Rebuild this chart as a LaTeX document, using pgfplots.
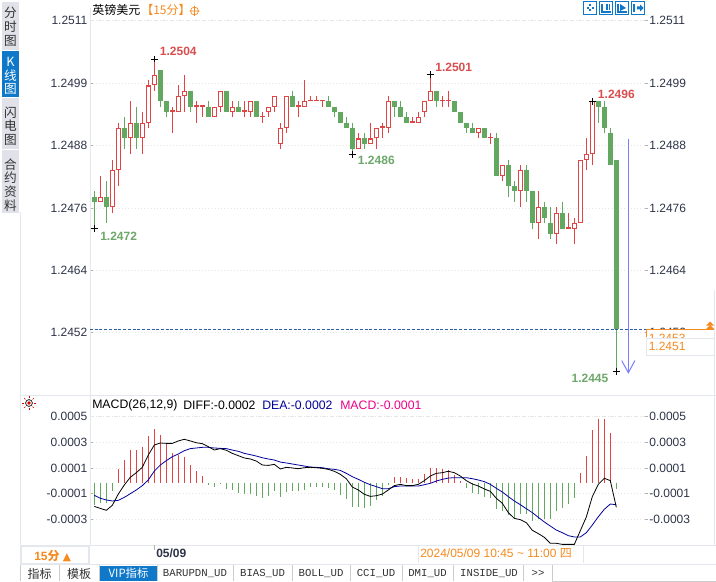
\documentclass[border=0pt]{standalone}
\usepackage{fontspec}
\usepackage{pgfplots}
\usepackage{pgfplotstable}
\pgfplotsset{compat=1.18}
\setmainfont{Liberation Sans}
\setmonofont{Liberation Mono}
\newfontfamily\cjk{Noto Sans CJK SC}
\newfontfamily\dejavu{DejaVu Sans}

\definecolor{upred}{HTML}{E04444}
\definecolor{downgreen}{HTML}{62A860}
\definecolor{labred}{HTML}{D94F4F}
\definecolor{labgreen}{HTML}{6DA86B}
\definecolor{ticktxt}{HTML}{2E3448}
\definecolor{rule}{HTML}{E4E8EE}
\definecolor{gridc}{HTML}{E6E6E6}
\definecolor{tabgray}{HTML}{E0E1E9}
\definecolor{tabblue}{HTML}{0F78C8}
\definecolor{orangetxt}{HTML}{F58A1F}
\definecolor{arrowblue}{HTML}{7C7CFF}
\definecolor{deablue}{HTML}{00009C}
\definecolor{lastline}{HTML}{2A5FA8}

% n open high low close (15 minute bars)
\pgfplotstableread{
n open high low close
1 1.2477 1.2482 1.2477 1.2478
3 1.2476 1.2485 1.2475 1.2483
4 1.2483 1.2492 1.2480 1.2491
6 1.2489 1.2496 1.2486 1.2492
8 1.2489 1.2494 1.2486 1.2492
9 1.2492 1.2500 1.2491 1.2499
10 1.2499 1.2504 1.2498 1.2501
13 1.2494 1.2495 1.2490 1.2494
14 1.2494 1.2499 1.2494 1.2497
15 1.2497 1.2501 1.2494 1.2498
17 1.2495 1.2496 1.2492 1.2495
18 1.2495 1.2495 1.2493 1.2495
20 1.2493 1.2495 1.2493 1.2495
21 1.2495 1.2498 1.2494 1.2498
23 1.2494 1.2496 1.2493 1.2495
25 1.2494 1.2496 1.2493 1.2494
26 1.2494 1.2496 1.2493 1.2496
28 1.2493 1.2494 1.2492 1.2493
29 1.2494 1.2495 1.2493 1.2495
30 1.2495 1.2497 1.2494 1.2497
31 1.2488 1.2492 1.2487 1.2491
32 1.2491 1.2497 1.2490 1.2497
34 1.2495 1.2496 1.2493 1.2495
35 1.2495 1.2500 1.2495 1.2496
36 1.2496 1.2497 1.2496 1.2496
37 1.2496 1.2497 1.2496 1.2496
38 1.2496 1.2496 1.2495 1.2496
44 1.2487 1.2490 1.2487 1.2489
46 1.2488 1.2492 1.2488 1.2489
47 1.2489 1.2491 1.2487 1.2491
48 1.2491 1.2492 1.2489 1.2491
49 1.2491 1.2497 1.2490 1.2496
53 1.2492 1.2493 1.2492 1.2492
54 1.2492 1.2494 1.2492 1.2493
55 1.2494 1.2496 1.2493 1.2496
56 1.2496 1.2501 1.2496 1.2498
58 1.2496 1.2497 1.2495 1.2496
59 1.2496 1.2498 1.2495 1.2496
64 1.2490 1.2491 1.2489 1.2491
66 1.2489 1.2490 1.2488 1.2489
68 1.2482 1.2484 1.2481 1.2484
71 1.2479 1.2484 1.2476 1.2483
74 1.2473 1.2479 1.2470 1.2476
77 1.2471 1.2476 1.2469 1.2475
79 1.2472 1.2475 1.2472 1.2472
80 1.2472 1.2474 1.2469 1.2473
81 1.2473 1.2485 1.2473 1.2485
82 1.2485 1.2489 1.2483 1.2486
83 1.2486 1.2496 1.2484 1.2496
}\upbars
\pgfplotstableread{
n open high low close
0 1.2478 1.2479 1.2472 1.2477
2 1.2478 1.2481 1.2473 1.2476
5 1.2491 1.2493 1.2487 1.2489
7 1.2492 1.2495 1.2487 1.2489
11 1.2502 1.2502 1.2495 1.2496
12 1.2496 1.2496 1.2493 1.2494
16 1.2498 1.2498 1.2494 1.2495
19 1.2495 1.2496 1.2493 1.2493
22 1.2498 1.2498 1.2494 1.2494
24 1.2495 1.2496 1.2494 1.2494
27 1.2496 1.2496 1.2493 1.2493
33 1.2497 1.2498 1.2495 1.2495
39 1.2496 1.2497 1.2495 1.2495
40 1.2495 1.2495 1.2493 1.2494
41 1.2494 1.2494 1.2492 1.2492
42 1.2492 1.2493 1.2491 1.2491
43 1.2491 1.2492 1.2486 1.2487
45 1.2489 1.2490 1.2487 1.2488
50 1.2496 1.2496 1.2493 1.2495
51 1.2495 1.2496 1.2493 1.2493
52 1.2493 1.2494 1.2492 1.2492
57 1.2498 1.2498 1.2495 1.2496
60 1.2496 1.2496 1.2494 1.2494
61 1.2494 1.2494 1.2492 1.2492
62 1.2492 1.2492 1.2490 1.2491
63 1.2491 1.2492 1.2490 1.2490
65 1.2491 1.2491 1.2489 1.2489
67 1.2489 1.2490 1.2482 1.2482
69 1.2484 1.2485 1.2478 1.2480
70 1.2480 1.2481 1.2477 1.2479
72 1.2483 1.2484 1.2477 1.2479
73 1.2479 1.2479 1.2472 1.2473
75 1.2476 1.2477 1.2473 1.2474
76 1.2473 1.2476 1.2470 1.2471
78 1.2475 1.2477 1.2472 1.2472
84 1.2496 1.2496 1.2492 1.2495
85 1.2495 1.2496 1.2490 1.2491
86 1.2490 1.2491 1.2484 1.2484
87 1.2485 1.2485 1.2445 1.2453
}\downbars

% n hist diff dea
\pgfplotstableread{
n hist diff dea
0 -0.000174 -0.000185 -0.000099
1 -0.000156 -0.000201 -0.000122
2 -0.000156 -0.000216 -0.000135
3 -0.000062 -0.000177 -0.000143
4 0.000107 -0.000089 -0.000138
5 0.000177 -0.000018 -0.000115
6 0.000252 0.000042 -0.000086
7 0.000252 0.000078 -0.000057
8 0.000278 0.000120 -0.000023
9 0.000364 0.000216 0.000021
10 0.000416 0.000294 0.000091
11 0.000372 0.000310 0.000138
12 0.000302 0.000307 0.000172
13 0.000229 0.000307 0.000203
14 0.000218 0.000326 0.000224
15 0.000200 0.000339 0.000250
16 0.000135 0.000326 0.000266
17 0.000091 0.000312 0.000271
18 0.000052 0.000305 0.000276
19 -0.000018 0.000281 0.000276
20 -0.000034 0.000255 0.000271
21 -0.000013 0.000266 0.000268
22 -0.000050 0.000253 0.000266
23 -0.000057 0.000229 0.000255
24 -0.000080 0.000211 0.000245
25 -0.000091 0.000193 0.000229
26 -0.000086 0.000185 0.000219
27 -0.000104 0.000169 0.000208
28 -0.000120 0.000138 0.000195
29 -0.000104 0.000135 0.000185
30 -0.000065 0.000143 0.000177
31 -0.000109 0.000107 0.000161
32 -0.000073 0.000120 0.000154
33 -0.000068 0.000115 0.000146
34 -0.000065 0.000109 0.000138
35 -0.000057 0.000117 0.000130
36 -0.000036 0.000120 0.000122
37 -0.000034 0.000117 0.000120
38 -0.000036 0.000112 0.000117
39 -0.000044 0.000104 0.000109
40 -0.000057 0.000089 0.000104
41 -0.000094 0.000065 0.000096
42 -0.000125 0.000031 0.000073
43 -0.000187 -0.000034 0.000047
44 -0.000187 -0.000057 0.000026
45 -0.000195 -0.000091 0.000003
46 -0.000182 -0.000107 -0.000016
47 -0.000135 -0.000102 -0.000031
48 -0.000104 -0.000089 -0.000047
49 -0.000016 -0.000057 -0.000047
50 0.000044 -0.000023 -0.000031
51 0.000044 -0.000013 -0.000026
52 0.000036 -0.000023 -0.000026
53 0.000029 -0.000023 -0.000026
54 0.000029 -0.000013 -0.000026
55 0.000068 0.000016 -0.000016
56 0.000112 0.000052 -0.000005
57 0.000112 0.000073 0.000013
58 0.000107 0.000078 0.000026
59 0.000099 0.000089 0.000036
60 0.000060 0.000078 0.000039
61 0.000010 0.000052 0.000039
62 -0.000042 0.000016 0.000039
63 -0.000080 -0.000010 0.000031
64 -0.000088 -0.000026 0.000021
65 -0.000109 -0.000049 0.000008
66 -0.000122 -0.000068 -0.000013
67 -0.000205 -0.000122 -0.000044
68 -0.000218 -0.000161 -0.000073
69 -0.000252 -0.000234 -0.000109
70 -0.000286 -0.000279 -0.000143
71 -0.000244 -0.000289 -0.000172
72 -0.000244 -0.000312 -0.000203
73 -0.000296 -0.000372 -0.000234
74 -0.000281 -0.000398 -0.000271
75 -0.000281 -0.000427 -0.000307
76 -0.000281 -0.000474 -0.000339
77 -0.000218 -0.000474 -0.000370
78 -0.000195 -0.000482 -0.000391
79 -0.000166 -0.000482 -0.000414
80 -0.000117 -0.000482 -0.000424
81 0.000073 -0.000375 -0.000424
82 0.000208 -0.000268 -0.000391
83 0.000411 -0.000109 -0.000331
84 0.000497 -0.000013 -0.000266
85 0.000497 0.000034 -0.000208
86 0.000387 0.000016 -0.000167
87 -0.000049 -0.000193 -0.000172
}\macd

\pgfplotsset{
  panel/.style={
    scale only axis, width=418.5pt, xmin=-0.717, xmax=92.28,
    axis x line=none, clip=true, scaled y ticks=false,
    tick label style={font=\fontsize{9}{11}\selectfont, text=ticktxt, inner sep=0pt},
    minor y tick num=4,
    major tick length=2.5pt, minor tick length=1.5pt,
    tick style={color=black!30, line width=0.6pt},
    minor tick style={color=black!25, line width=0.6pt},
  },
  leftside/.style={axis y line*=left, axis line style={color=rule,line width=0.75pt},
    ymajorgrids, grid style={gridc,dotted,line width=0.6pt},
    yticklabel style={anchor=east,xshift=-1.8pt}},
  rightside/.style={axis y line*=right, axis line style={draw=none},
    yticklabel style={anchor=west,xshift=0.8pt}},
  pricepanel/.style={panel, height=290.25pt, ymin=1.24406, ymax=1.251362,
    at={(67.5pt,-296.25pt)}, anchor=south west,
    ytick={1.245249,1.246419,1.247589,1.248777,1.249947,1.251126},
    yticklabels={1.2452,1.2464,1.2476,1.2488,1.2499,1.2511}},
  macdpanel/.style={panel, height=112.5pt, ymin=-0.000487, ymax=0.000685,
    at={(67.5pt,-408.75pt)}, anchor=south west,
    ytick={-0.000284,-0.00008,0.000115,0.000316,0.000516},
    yticklabels={-0.0003,-0.0001,0.0001,0.0003,0.0005}},
  barstyle/.style 2 args={draw=none, forget plot,
    error bars/.cd, y dir=both, y explicit, error mark=none,
    error bar style={draw=#1, line width=#2}},
}

\begin{document}
\begin{tikzpicture}[x=0.75pt,y=-0.75pt]
\useasboundingbox (0,0) rectangle (716,581);
\fill[white] (0,0) rectangle (716,581);

% ---- price panel
\begin{axis}[pricepanel, leftside]
\addplot[gridc,dashed,forget plot] coordinates {(-0.717,1.251126) (92.28,1.251126)};
% wicks
\addplot[barstyle={upred}{0.75pt}] table[x=n,y=open,
  y error plus expr=\thisrow{high}-\thisrow{open},
  y error minus expr=\thisrow{open}-\thisrow{low}] {\upbars};
\addplot[barstyle={downgreen}{0.75pt}] table[x=n,y=open,
  y error plus expr=\thisrow{high}-\thisrow{open},
  y error minus expr=\thisrow{open}-\thisrow{low}] {\downbars};
% bodies
\addplot[barstyle={downgreen}{3.75pt}] table[x=n,y=open,
  y error plus expr=0,
  y error minus expr={max(\thisrow{open}-\thisrow{close},0.00003)}] {\downbars};
\addplot[barstyle={upred}{3.4pt}] table[x=n,y=open,
  y error plus expr={max(\thisrow{close}-\thisrow{open},0.00003)},
  y error minus expr=0] {\upbars};
\addplot[barstyle={white}{1.9pt}] table[x=n,y expr=\thisrow{open}+0.00002,
  y error plus expr={max(\thisrow{close}-\thisrow{open}-0.00004,0)},
  y error minus expr=0] {\upbars};
% last price line
\addplot[lastline,dash pattern=on 2.25pt off 1.3pt,line width=0.6pt,forget plot]
  coordinates {(-0.717,1.24529) (92.28,1.24529)};
% drawn arrow
\addplot[arrowblue,line width=0.75pt,forget plot] coordinates {(89,1.24889) (89,1.24448)};
\addplot[arrowblue,line width=0.75pt,forget plot] coordinates {(87.9,1.24471) (89,1.24448) (90.1,1.24471)};
% extremes
\addplot[only marks,mark=+,mark size=2.6pt,mark options={black,line width=0.6pt},forget plot]
  coordinates {(0,1.2472) (10,1.2504) (43,1.2486) (56,1.2501) (83,1.2496) (87,1.2445)};
\node[anchor=west,inner sep=0pt,text=labred,font=\bfseries\fontsize{9}{11}\selectfont] at (axis cs:10.9,1.25055) {1.2504};
\node[anchor=west,inner sep=0pt,text=labgreen,font=\bfseries\fontsize{9}{11}\selectfont] at (axis cs:0.95,1.24705) {1.2472};
\node[anchor=west,inner sep=0pt,text=labgreen,font=\bfseries\fontsize{9}{11}\selectfont] at (axis cs:43.9,1.24848) {1.2486};
\node[anchor=west,inner sep=0pt,text=labred,font=\bfseries\fontsize{9}{11}\selectfont] at (axis cs:56.8,1.25025) {1.2501};
\node[anchor=west,inner sep=0pt,text=labred,font=\bfseries\fontsize{9}{11}\selectfont] at (axis cs:83.9,1.24973) {1.2496};
\node[anchor=west,inner sep=0pt,text=labgreen,font=\bfseries\fontsize{9}{11}\selectfont] at (axis cs:79.5,1.24437) {1.2445};
\end{axis}
\begin{axis}[pricepanel, rightside]
\end{axis}

% ---- MACD panel
\begin{axis}[macdpanel, leftside]
\addplot[gridc,dashed,forget plot] coordinates {(-0.717,0.000516) (92.28,0.000516)};
\addplot[ycomb,upred,line width=0.75pt,no markers,restrict y to domain=0:1] table[x=n,y=hist] {\macd};
\addplot[ycomb,downgreen,line width=0.75pt,no markers,restrict y to domain=-1:0] table[x=n,y=hist] {\macd};
\addplot[deablue,line width=0.6pt,no markers] table[x=n,y=dea] {\macd};
\addplot[black,line width=0.6pt,no markers] table[x=n,y=diff] {\macd};
\end{axis}
\begin{axis}[macdpanel, rightside]
\end{axis}

% ---- frame of the terminal
\draw[rule,line width=0.75pt] (20,395) -- (716,395);
\draw[rule,line width=0.75pt] (20,212) -- (20,564);
\draw[rule,line width=0.75pt] (90,395) -- (90,545);
\draw[rule,line width=0.75pt] (90,545) -- (716,545);
\draw[rule,line width=0.75pt] (714,290) -- (714,545);
\draw[rule,line width=0.75pt] (20,564) -- (716,564);

% ---- left tabs
\fill[tabgray] (2,2) rectangle (19,50);
\fill[tabblue] (2,51) rectangle (19,97);
\fill[tabgray] (2,98) rectangle (19,149);
\fill[tabgray] (2,150) rectangle (19,213);
\node[align=center,inner sep=0pt,text=black!80,font=\cjk\fontsize{9.5}{10.3}\selectfont] at (10.5,27) {分\\时\\图};
\node[align=center,inner sep=0pt,text=white,font=\cjk\fontsize{9.5}{10.3}\selectfont] at (10.5,76) {K\\线\\图};
\node[align=center,inner sep=0pt,text=black!80,font=\cjk\fontsize{9.5}{10.3}\selectfont] at (10.5,126) {闪\\电\\图};
\node[align=center,inner sep=0pt,text=black!80,font=\cjk\fontsize{9.5}{10.3}\selectfont] at (10.5,185) {合\\约\\资\\料};

% ---- titles
\node[anchor=west,inner sep=0pt,font=\cjk\fontsize{9}{11}\selectfont] at (92,10) {英镑美元};
\node[anchor=west,inner sep=0pt,text=orangetxt,font=\cjk\fontsize{9}{11}\selectfont] at (141,10) {【15分】};
\draw[orangetxt,line width=0.5pt] (194.5,11) circle (4) (189.5,11) -- (199.5,11) (194.5,6) -- (194.5,16);
\node[anchor=west,inner sep=0pt,font=\fontsize{9.2}{11}\selectfont] at (92,405) {MACD(26,12,9)};
\node[anchor=west,inner sep=0pt,font=\fontsize{9.2}{11}\selectfont] at (183,405) {DIFF:-0.0002};
\node[anchor=west,inner sep=0pt,text=deablue,font=\fontsize{9.2}{11}\selectfont] at (262,405) {DEA:-0.0002};
\node[anchor=west,inner sep=0pt,text=magenta,font=\fontsize{9.2}{11}\selectfont] at (340,405) {MACD:-0.0001};

% ---- toolbar icons
\foreach \xa in {583.5,599.5,615.5,631.5}
  \draw[tabblue,line width=0.8pt,fill=white] (\xa,1.5) rectangle +(13,13);
\draw[tabblue,line width=1pt] (587,8) -- (589,8) (591.5,8) -- (593.5,8) (590,4.5) -- (590,6.5) (590,9.5) -- (590,11.5);
\draw[tabblue,line width=0.8pt] (602,4) -- (602,12) -- (611,12) (607,4) -- (607,10) (609.5,4) -- (609.5,10);
\draw[tabblue,line width=0.8pt] (618,4) -- (618,12) -- (627,12);
\fill[tabblue] (620,4) -- (626,8) -- (620,11) -- cycle;
\draw[tabblue,line width=0.8pt] (634,4) -- (634,12);
\fill[tabblue] (637,6.5) -- (640,6.5) -- (640,4.5) -- (643.5,8) -- (640,11.5) -- (640,9.5) -- (637,9.5) -- cycle;

% ---- price flags on the right
\fill[white] (646.5,329) rectangle (714,338);
\begin{scope}
\clip (646.5,329) rectangle (714,338);
\node[anchor=west,inner sep=0pt,text=orangetxt,font=\fontsize{9}{11}\selectfont] at (648.5,338) {1.2453};
\end{scope}
\draw[orangetxt,line width=0.75pt] (646.5,337) -- (646.5,329) -- (714,329);
\draw[rule,line width=0.75pt,fill=white] (646.5,338) rectangle (714,355);
\node[anchor=west,inner sep=0pt,text=orangetxt,font=\fontsize{9}{11}\selectfont] at (648.5,346.5) {1.2451};
\fill[orangetxt] (710,321.5) -- (714,325.5) -- (706,325.5) -- cycle;
\fill[orangetxt] (710,325) -- (714,329) -- (706,329) -- cycle;

% ---- alert icon
\draw[black,line width=0.5pt] (29,403) circle (3.4);
\fill[red!85!black] (29,403) circle (1.9);
\foreach \a in {0,45,...,315}
  \draw[red!85!black,line width=0.5pt] (29,403) ++(\a:5) -- ++(\a:2);

% ---- date strip
\draw[black!30,line width=0.6pt] (154,545) -- (154,550);
\node[anchor=west,inner sep=0pt,text=ticktxt,font=\bfseries\fontsize{9}{11}\selectfont] at (156,553) {05/09};
\draw[rule,line width=0.75pt] (418.5,546) -- (418.5,563) (583,546) -- (583,563);
\node[anchor=west,inner sep=0pt,text=orangetxt,font=\fontsize{9}{11}\selectfont] at (420,553.5) {2024/05/09 10:45 \textasciitilde{} 11:00 {\cjk 四}};
\draw[rule,line width=1pt] (21,546) rectangle (89,564);
\node[anchor=west,inner sep=0pt,text=orangetxt,font=\bfseries\fontsize{9}{11}\selectfont] at (34,556) {15{\cjk 分} {\dejavu\fontsize{8}{10}\selectfont ▲}};

% ---- bottom tabs
\fill[tabblue] (100,566) rectangle (157,581);
\foreach \xa in {20,59,99,157,233,292,350,402,453,523,552}
  \draw[black!20,line width=0.75pt] (\xa,565) -- (\xa,581);
\draw[black!20,line width=0.75pt] (552,581) -- (716,581);
\node[inner sep=0pt,font=\cjk\fontsize{9}{11}\selectfont,text=black!80] at (39.5,573.5) {指标};
\node[inner sep=0pt,font=\cjk\fontsize{9}{11}\selectfont,text=black!80] at (79,573.5) {模板};
\node[inner sep=0pt,font=\cjk\fontsize{8.5}{11}\selectfont,text=white] at (128.5,573.5) {VIP指标};
\node[inner sep=0pt,font=\ttfamily\fontsize{8}{10}\selectfont,text=black!80] at (195,573.5) {BARUPDN\_UD};
\node[inner sep=0pt,font=\ttfamily\fontsize{8}{10}\selectfont,text=black!80] at (262.5,573.5) {BIAS\_UD};
\node[inner sep=0pt,font=\ttfamily\fontsize{8}{10}\selectfont,text=black!80] at (321,573.5) {BOLL\_UD};
\node[inner sep=0pt,font=\ttfamily\fontsize{8}{10}\selectfont,text=black!80] at (376,573.5) {CCI\_UD};
\node[inner sep=0pt,font=\ttfamily\fontsize{8}{10}\selectfont,text=black!80] at (427.5,573.5) {DMI\_UD};
\node[inner sep=0pt,font=\ttfamily\fontsize{8}{10}\selectfont,text=black!80] at (489,573.5) {INSIDE\_UD};
\node[inner sep=0pt,font=\ttfamily\fontsize{8}{10}\selectfont,text=black!80] at (538,573.5) {>>};
\end{tikzpicture}
\end{document}
